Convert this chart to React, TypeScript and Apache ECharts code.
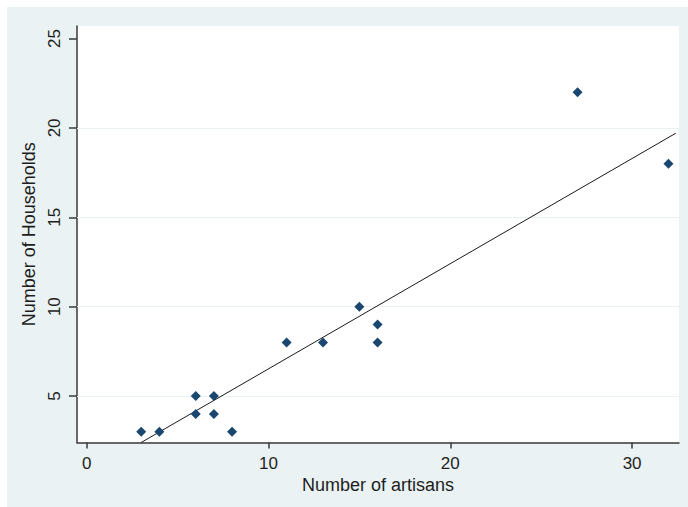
import React, { useEffect, useRef } from "react";
import * as echarts from "echarts";

const artisans = [3, 4, 6, 6, 7, 7, 8, 11, 13, 15, 16, 16, 27, 32];
const households = [3, 3, 5, 4, 5, 4, 3, 8, 8, 10, 9, 8, 22, 18];
const fitX = [3, 32.4];
const fitY = [2.4, 19.7];
const xTicks = [0, 10, 20, 30];
const yTicks = [5, 10, 15, 20, 25];
const yGrid = [5, 10, 15, 20];

const FONT = "'Liberation Sans', Arial, sans-serif";
const TEXT = "#1e1e1e";
const AXIS = "#3a3a3a";

export default function App() {
  const ref = useRef<HTMLDivElement>(null);
  useEffect(() => {
    if (!ref.current) return;
    const chart = echarts.init(ref.current, undefined, { renderer: "svg" });
    const points = artisans.map((x, i) => [x, households[i]]);
    const fit = fitX.map((x, i) => [x, fitY[i]]);
    chart.setOption({
      animation: false,
      backgroundColor: "#ffffff",
      graphic: [
        {
          type: "rect",
          z: -10,
          silent: true,
          shape: { x: 7, y: 7, width: 681, height: 500 },
          style: { fill: "#eaf2f3" },
        },
      ],
      grid: {
        left: 77,
        top: 26,
        right: 9,
        bottom: 64.5,
        show: true,
        backgroundColor: "#ffffff",
        borderWidth: 0,
      },
      xAxis: {
        type: "value",
        min: -0.53,
        max: 32.58,
        name: "Number of artisans",
        nameLocation: "middle",
        nameGap: 30,
        nameTextStyle: { fontFamily: FONT, fontSize: 18, color: TEXT },
        axisLine: { show: true, onZero: false, lineStyle: { color: AXIS, width: 1.5 } },
        axisTick: { show: true, length: 6, customValues: xTicks, lineStyle: { color: AXIS, width: 1.5 } },
        axisLabel: { customValues: xTicks, fontFamily: FONT, fontSize: 17, color: TEXT, margin: 12 },
        splitLine: { show: false },
      },
      yAxis: {
        type: "value",
        min: 2.4,
        max: 25.7,
        name: "Number of Households",
        nameLocation: "middle",
        nameGap: 31,
        nameTextStyle: { fontFamily: FONT, fontSize: 18, color: TEXT },
        axisLine: { show: true, onZero: false, lineStyle: { color: AXIS, width: 1.5 } },
        axisTick: { show: true, length: 8, customValues: yTicks, lineStyle: { color: AXIS, width: 1.5 } },
        axisLabel: { customValues: yTicks, rotate: 90, fontFamily: FONT, fontSize: 17, color: TEXT, margin: 14 },
        splitLine: { show: false },
      },
      series: [
        {
          type: "line",
          z: 1,
          data: [],
          silent: true,
          markLine: {
            z: 1,
            silent: true,
            symbol: "none",
            label: { show: false },
            lineStyle: { color: "#eaf2f3", width: 1.2, type: "solid" },
            data: yGrid.map((v) => ({ yAxis: v })),
          },
        },
        {
          type: "line",
          z: 3,
          data: fit,
          showSymbol: false,
          symbol: "none",
          lineStyle: { color: "#1a1a1a", width: 1 },
        },
        {
          type: "scatter",
          z: 4,
          data: points,
          symbol: "diamond",
          symbolSize: 10,
          itemStyle: { color: "#1a476f", opacity: 1 },
        },
      ],
    });
    return () => chart.dispose();
  }, []);
  return (
    <div
      ref={ref}
      style={{ position: "fixed", left: 0, top: 0, width: 688, height: 507 }}
    />
  );
}
